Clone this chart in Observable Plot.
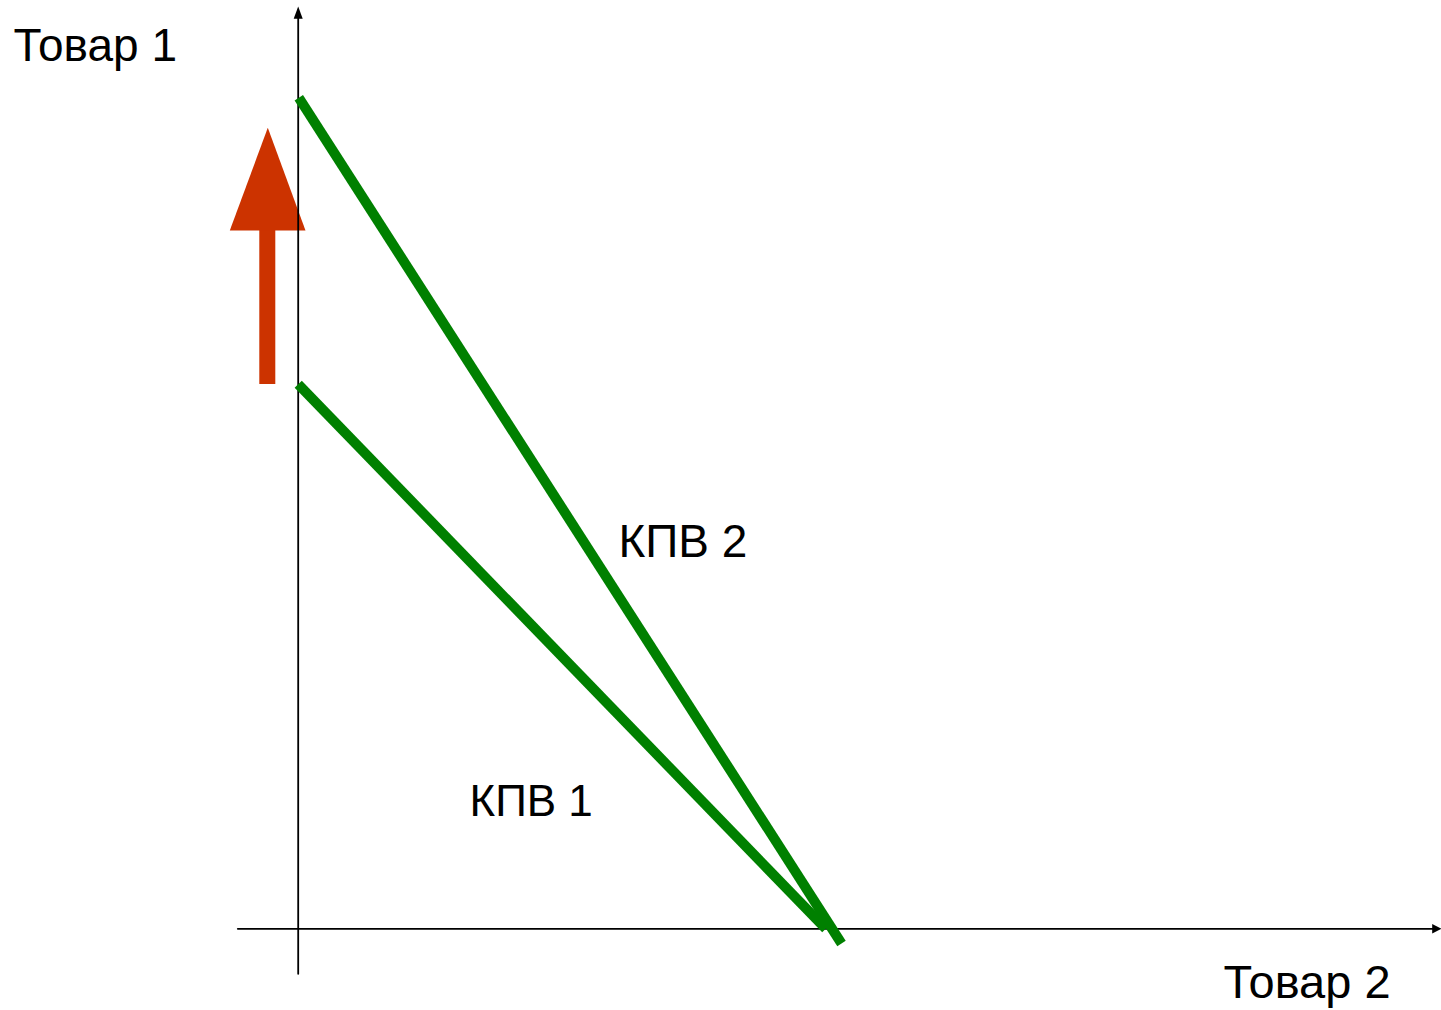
<!DOCTYPE html>
<html>
<head>
<meta charset="utf-8">
<script src="https://cdn.jsdelivr.net/npm/d3@7"></script>
<script src="https://cdn.jsdelivr.net/npm/@observablehq/plot@0.6"></script>
<style>
  html, body { margin: 0; padding: 0; background: #ffffff; overflow: hidden; }
  #chart svg { display: block; }
</style>
</head>
<body>
<div id="chart"></div>
<script>
// Schematic data (units: origin at axes intersection)
const kpv1X = [0, 5.276];
const kpv1Y = [5.446, 0];
const kpv2X = [0.006, 5.433];
const kpv2Y = [8.31, -0.147];

// red shift arrow
const shaftX = [-0.384, -0.224];
const shaftY = [5.443, 6.983];
const headX = [-0.684, -0.304, 0.073];
const headY = [6.983, 8.01, 6.983];

// axes
const yAxisX = [0, 0];
const yAxisY = [-0.45, 9.12];
const yTipX = [-0.045, 0, 0.045];
const yTipY = [9.1, 9.223, 9.1];
const xAxisX = [-0.604, 11.35];
const xAxisY = [0, 0];
const xTipX = [11.34, 11.433, 11.34];
const xTipY = [0.047, 0, -0.047];

// labels
const labelText = ["Товар 1", "Товар 2", "КПВ 2", "КПВ 1"];
const labelX = [-2.847, 9.253, 3.203, 1.713];
const labelY = [8.683, -0.694, 3.723, 1.133];
const labelSize = [46, 47, 46, 44];

const pts = (xs, ys) => xs.map((x, i) => ({x, y: ys[i]}));
const labels = labelText.map((t, i) => ({t, x: labelX[i], y: labelY[i], s: labelSize[i]}));

const green = "#008000";
const red = "#cc3300";

const chart = Plot.plot({
  width: 1441,
  height: 1010,
  margin: 0,
  x: {domain: [-2.977, 11.433], range: [0, 1441], axis: null},
  y: {domain: [-0.817, 9.283], range: [1010, 0], axis: null},
  style: {background: "#ffffff", fontFamily: "Liberation Sans, Arial, sans-serif"},
  marks: [
    Plot.rect([{x1: shaftX[0], x2: shaftX[1], y1: shaftY[0], y2: shaftY[1]}], {x1: "x1", x2: "x2", y1: "y1", y2: "y2", fill: red}),
    Plot.line(pts(headX, headY), {x: "x", y: "y", fill: red, stroke: "none"}),
    Plot.line(pts(yAxisX, yAxisY), {x: "x", y: "y", stroke: "#000", strokeWidth: 1.8}),
    Plot.line(pts(xAxisX, xAxisY), {x: "x", y: "y", stroke: "#000", strokeWidth: 1.8}),
    Plot.line(pts(yTipX, yTipY), {x: "x", y: "y", fill: "#000", stroke: "none"}),
    Plot.line(pts(xTipX, xTipY), {x: "x", y: "y", fill: "#000", stroke: "none"}),
    Plot.line(pts(kpv1X, kpv1Y), {x: "x", y: "y", stroke: green, strokeWidth: 10, strokeLinecap: "butt"}),
    Plot.line(pts(kpv2X, kpv2Y), {x: "x", y: "y", stroke: green, strokeWidth: 10, strokeLinecap: "butt"}),
    Plot.text(labels, {x: "x", y: "y", text: "t", fontSize: d => d.s, textAnchor: "start", lineAnchor: "bottom", fill: "#000"})
  ]
});
document.getElementById("chart").appendChild(chart);
</script>
</body>
</html>
